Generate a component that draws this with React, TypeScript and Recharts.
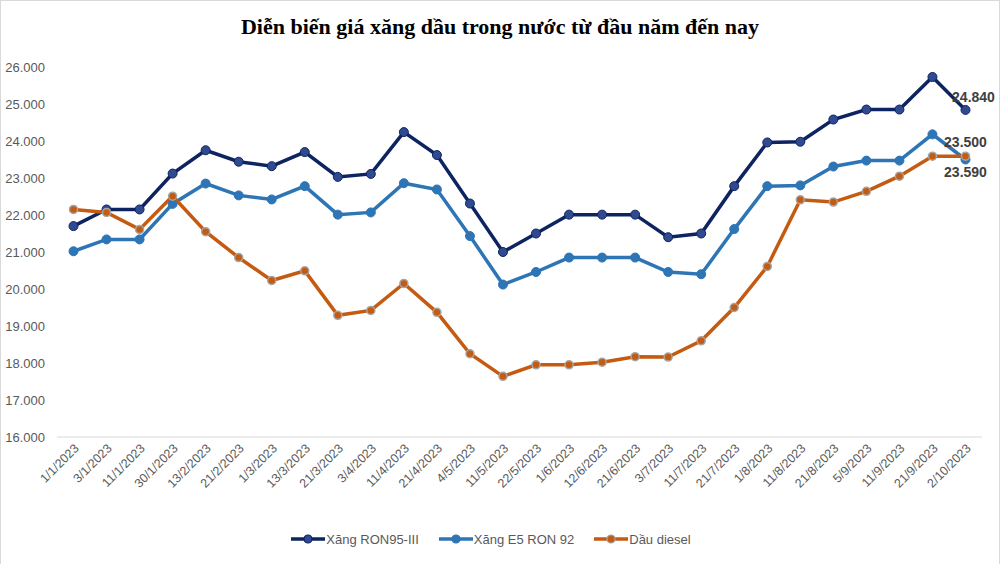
import React from 'react';
import { LineChart, Line, XAxis, YAxis, Legend } from 'recharts';

const categories = ['1/1/2023','3/1/2023','11/1/2023','30/1/2023','13/2/2023','21/2/2023','1/3/2023','13/3/2023','21/3/2023','3/4/2023','11/4/2023','21/4/2023','4/5/2023','11/5/2023','22/5/2023','1/6/2023','12/6/2023','21/6/2023','3/7/2023','11/7/2023','21/7/2023','1/8/2023','11/8/2023','21/8/2023','5/9/2023','11/9/2023','21/9/2023','2/10/2023'];

const ron95 = [21700,22150,22150,23120,23750,23440,23320,23700,23030,23110,24240,23620,22310,21000,21500,22010,22010,22010,21400,21500,22780,23960,23980,24580,24850,24850,25730,24840];
const e5 = [21020,21340,21340,22300,22850,22530,22420,22780,22010,22070,22860,22690,21430,20120,20460,20850,20850,20850,20460,20400,21620,22780,22800,23310,23470,23470,24180,23500];
const diesel = [22150,22070,21610,22510,21550,20850,20230,20490,19290,19420,20150,19370,18250,17640,17950,17950,18020,18170,18160,18600,19500,20610,22410,22350,22640,23050,23590,23590];

const yTicks = [16000,17000,18000,19000,20000,21000,22000,23000,24000,25000,26000];

const seriesNames = ['Xăng RON95-III', 'Xăng E5 RON 92', 'Dầu diesel'];

const data = categories.map((c, i) => ({ date: c, ron95: ron95[i], e5: e5[i], diesel: diesel[i] }));

const fmt = (v: number) => (v / 1000).toFixed(3);

const NAVY = '#0E2461';
const NAVY_DOT = '#2F4A8E';
const BLUE = '#2E75B6';
const ORANGE = '#C55A11';

const XTick = (props: any) => {
  const { x, y, payload } = props;
  return (
    <g transform={`translate(${x + 3},${y + 7})`}>
      <text x={0} y={0} dy="0.35em" textAnchor="end" transform="rotate(-45)" fill="#595959" fontSize={12.5} fontFamily="'Liberation Sans', Arial, sans-serif">
        {payload.value}
      </text>
    </g>
  );
};

const makeEndLabel = (dx: number, dy: number) => (props: any) => {
  const { x, y, index, value } = props;
  if (index !== categories.length - 1) return null;
  return (
    <text x={x + dx} y={y + dy} dy="0.35em" textAnchor="middle" fill="#404040" fontSize={14} fontWeight="bold" fontFamily="'Liberation Sans', Arial, sans-serif">
      {fmt(value)}
    </text>
  );
};

const LegendContent = () => {
  const items = [
    { name: seriesNames[0], color: NAVY, dot: NAVY_DOT, dotStroke: NAVY },
    { name: seriesNames[1], color: BLUE, dot: BLUE, dotStroke: BLUE },
    { name: seriesNames[2], color: ORANGE, dot: ORANGE, dotStroke: '#A5A5A5' },
  ];
  return (
    <div style={{ display: 'flex', justifyContent: 'center', alignItems: 'center', height: 30, gap: 20 }}>
      {items.map((it) => (
        <div key={it.name} style={{ display: 'flex', alignItems: 'center' }}>
          <svg width={34} height={12}>
            <line x1={0} y1={6} x2={34} y2={6} stroke={it.color} strokeWidth={3.5} />
            <circle cx={17} cy={6} r={4} fill={it.dot} stroke={it.dotStroke} strokeWidth={1.2} />
          </svg>
          <span style={{ fontSize: 13, color: '#595959', fontFamily: "'Liberation Sans', Arial, sans-serif", marginLeft: 1 }}>{it.name}</span>
        </div>
      ))}
    </div>
  );
};

export default function App() {
  return (
    <div style={{ position: 'absolute', left: 0, top: 0, width: 1000, height: 564, background: '#fff' }}>
      <div style={{ position: 'absolute', left: 0, top: 0, width: 998, height: 563, border: '1px solid #D9D9D9' }} />
      <div style={{ position: 'absolute', left: 0, top: 12, width: 1000, textAlign: 'center', fontFamily: "'Liberation Serif', 'Times New Roman', serif", fontWeight: 'bold', fontSize: 22, color: '#000', lineHeight: '30px' }}>
        Diễn biến giá xăng dầu trong nước từ đầu năm đến nay
      </div>
      <LineChart width={1000} height={564} data={data} margin={{ top: 67, right: 18, bottom: 10, left: 0 }} style={{ position: 'absolute', left: 0, top: 0 }}>
        <XAxis dataKey="date" interval={0} height={87} tick={<XTick />} tickLine={false} axisLine={{ stroke: '#D9D9D9', strokeWidth: 1 }} tickSize={0} padding={{ left: 16.5, right: 16.5 }} />
        <YAxis domain={[16000, 26000]} ticks={yTicks} tickFormatter={fmt} width={57} axisLine={false} tickLine={false} tickSize={0} tickMargin={12} tick={{ fill: '#595959', fontSize: 13, fontFamily: "'Liberation Sans', Arial, sans-serif" }} interval={0} />
        <Legend verticalAlign="bottom" height={30} content={<LegendContent />} />
        <Line type="linear" dataKey="ron95" name={seriesNames[0]} stroke={NAVY} strokeWidth={3.5} isAnimationActive={false}
          dot={{ r: 4.5, fill: NAVY_DOT, stroke: NAVY, strokeWidth: 1 }} activeDot={false} label={makeEndLabel(8, -13)} />
        <Line type="linear" dataKey="e5" name={seriesNames[1]} stroke={BLUE} strokeWidth={3.5} isAnimationActive={false}
          dot={{ r: 4.5, fill: BLUE, stroke: BLUE, strokeWidth: 1 }} activeDot={false} label={makeEndLabel(0, -17)} />
        <Line type="linear" dataKey="diesel" name={seriesNames[2]} stroke={ORANGE} strokeWidth={3.5} isAnimationActive={false}
          dot={{ r: 4, fill: ORANGE, stroke: '#A5A5A5', strokeWidth: 1.5 }} activeDot={false} label={makeEndLabel(0, 16)} />
      </LineChart>
    </div>
  );
}
